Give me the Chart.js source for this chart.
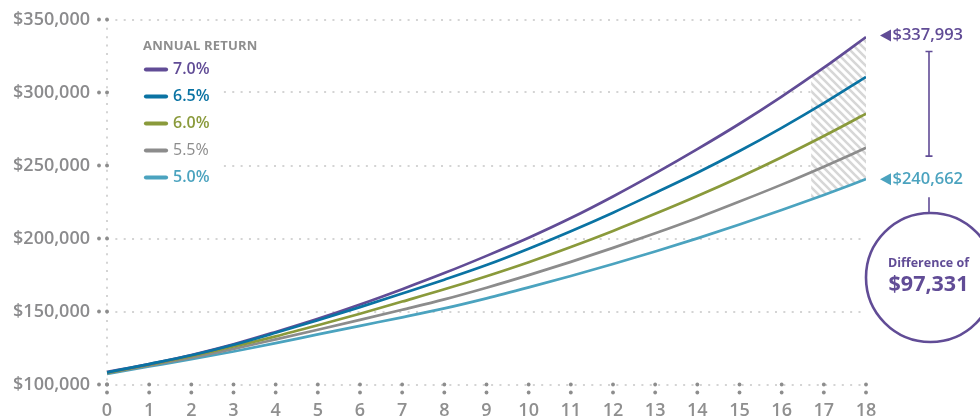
<!DOCTYPE html>
<html><head><meta charset="utf-8">
<script src="https://cdn.jsdelivr.net/npm/chart.js@4.4.1/dist/chart.umd.min.js"></script>
<style>html,body{margin:0;padding:0;background:#fff}</style>
</head><body>
<canvas id="c" width="980" height="419"></canvas>
<script>
// ---------- data ----------
const years = [0,1,2,3,4,5,6,7,8,9,10,11,12,13,14,15,16,17,18];
const seriesLabels = ['7.0%','6.5%','6.0%','5.5%','5.0%'];
const rate70 = [108500,114000,120200,127500,136000,145000,154800,165300,176300,188100,200500,214000,228800,244600,261200,278600,297200,317000,337993];
const rate65 = [108300,114000,120000,127200,135400,144000,153000,162300,171800,181800,193000,205000,217700,231200,245000,259900,275800,292700,310700];
const rate60 = [108000,113600,119400,126000,133000,140600,148500,156800,165200,174200,183800,194200,205200,216900,229100,242000,255700,270200,285400];
const rate55 = [107700,113000,118400,124400,130900,137500,144300,151200,158300,166300,174900,184000,193600,203600,214100,225300,236900,249200,262100];
const rate50 = [107300,112300,117300,122600,128300,134300,140200,146000,152100,159000,166500,174300,182500,191100,200100,209600,219500,229800,240662];
const yTickValues = [100000,150000,200000,250000,300000,350000];
const legendTitle = 'ANNUAL RETURN';
const diffTitle = 'Difference of';
const hatchFromYear = 16.7;

// ---------- styles ----------
const COLORS = ['#614c96','#0a73a3','#8a9a3b','#8c8c8c','#4ba3bf'];
const FONT = '"Open Sans", "Noto Sans", sans-serif';
const GRID = '#d4d4d4';
const DOT = '#8d8d8d';
const fmt = v => '$' + Math.round(v).toLocaleString('en-US');

const allSeries = [rate70, rate65, rate60, rate55, rate50];
const drawOrder = [1,0,2,3,4];

function hatchPattern(ctx){
  const c = document.createElement('canvas'); c.width = 8; c.height = 8;
  const g = c.getContext('2d');
  g.fillStyle = '#ffffff'; g.fillRect(0,0,8,8);
  g.strokeStyle = '#d7d7d7'; g.lineWidth = 2.6;
  g.beginPath();
  g.moveTo(-2,-2); g.lineTo(10,10);
  g.moveTo(-2,6); g.lineTo(2,10);
  g.moveTo(6,-2); g.lineTo(10,2);
  g.stroke();
  return ctx.createPattern(c, 'repeat');
}

const decor = {
  id: 'decor',
  beforeDatasetsDraw(chart){
    const {ctx, chartArea: ca, scales} = chart;
    const xs = scales.x;
    // hatched band between top and bottom series
    const x0 = xs.getPixelForValue(hatchFromYear);
    ctx.save();
    ctx.beginPath(); ctx.rect(x0, ca.top - 20, ca.right - x0, ca.bottom - ca.top + 20); ctx.clip();
    const low = chart.getDatasetMeta(4).dataset;
    ctx.beginPath(); low.path(ctx); ctx.lineTo(ca.right, ca.top - 20); ctx.lineTo(ca.left, ca.top - 20); ctx.closePath(); ctx.clip();
    const high = chart.getDatasetMeta(0).dataset;
    ctx.beginPath(); high.path(ctx); ctx.lineTo(ca.right, ca.bottom); ctx.lineTo(ca.left, ca.bottom); ctx.closePath();
    ctx.fillStyle = hatchPattern(ctx); ctx.fill();
    ctx.restore();

    // legend
    ctx.save();
    ctx.fillStyle = '#fff';
    ctx.fillRect(ca.left + 6, 33, 106, 158);
    ctx.textBaseline = 'middle';
    ctx.fillStyle = '#8e8e8e';
    ctx.font = '700 13px ' + FONT;
    if ('letterSpacing' in ctx) ctx.letterSpacing = '0.2px';
    ctx.fillText(legendTitle, ca.left + 36, 46);
    if ('letterSpacing' in ctx) ctx.letterSpacing = '0px';
    seriesLabels.forEach((lab, i) => {
      const y = 69.5 + i * 27;
      ctx.strokeStyle = COLORS[i]; ctx.lineWidth = 4.2; ctx.lineCap = 'round';
      ctx.beginPath(); ctx.moveTo(ca.left + 39, y); ctx.lineTo(ca.left + 59, y); ctx.stroke();
      ctx.fillStyle = COLORS[i];
      ctx.font = (i === 3 ? '500' : '600') + ' 16px ' + FONT;
      ctx.fillText(lab, ca.left + 66, y);
    });
    ctx.restore();
  },
  afterDraw(chart){
    const {ctx, chartArea: ca, scales} = chart;
    const xs = scales.x, ys = scales.y;
    ctx.save();
    ctx.fillStyle = DOT;
    // y tick dots
    ys.ticks.forEach(t => {
      const y = ys.getPixelForValue(t.value);
      [ca.left - 8, ca.left].forEach(x => { ctx.beginPath(); ctx.arc(x, y, 1.9, 0, Math.PI*2); ctx.fill(); });
    });
    // x tick dots
    xs.ticks.forEach(t => {
      const x = xs.getPixelForValue(t.value);
      [ca.bottom, ca.bottom + 8].forEach(y => { ctx.beginPath(); ctx.arc(x, y, 1.9, 0, Math.PI*2); ctx.fill(); });
    });

    // right annotations
    const last = years.length - 1;
    const yHi = ys.getPixelForValue(rate70[last]) - 1.5;
    const yLo = ys.getPixelForValue(rate50[last]);
    const lx = ca.right + 14;
    ctx.textBaseline = 'middle';
    ctx.font = '600 16.5px ' + FONT;
    [[yHi, COLORS[0], rate70[last]], [yLo, COLORS[4], rate50[last]]].forEach(([y, col, v]) => {
      ctx.fillStyle = col;
      ctx.beginPath(); ctx.moveTo(lx, y); ctx.lineTo(lx + 11, y - 6); ctx.lineTo(lx + 11, y + 6); ctx.closePath(); ctx.fill();
      ctx.fillText(fmt(v), lx + 12.5, y);
    });
    // bracket
    const bx = 929;
    ctx.strokeStyle = COLORS[0]; ctx.lineWidth = 1.6;
    const b1 = yHi + 16, b2 = yLo - 23;
    ctx.beginPath();
    ctx.moveTo(bx, b1); ctx.lineTo(bx, b2);
    ctx.moveTo(bx - 3.5, b1); ctx.lineTo(bx + 3.5, b1);
    ctx.moveTo(bx - 3.5, b2); ctx.lineTo(bx + 3.5, b2);
    ctx.stroke();
    // circle
    const cx = 930.5, cy = 277.5, r = 64.5;
    ctx.beginPath(); ctx.moveTo(bx, yLo + 18); ctx.lineTo(bx, cy - r); ctx.stroke();
    ctx.lineWidth = 2.6;
    ctx.beginPath(); ctx.arc(cx, cy, r, 0, Math.PI*2); ctx.stroke();
    ctx.fillStyle = COLORS[0]; ctx.textAlign = 'center';
    ctx.font = '700 12.5px ' + FONT;
    ctx.fillText(diffTitle, 928.5, 263.5);
    ctx.font = '700 21.5px ' + FONT;
    ctx.fillText(fmt(rate70[last] - rate50[last]), 928.5, 285);
    ctx.restore();
  }
};

const datasets = allSeries.map((vals, i) => ({
  label: seriesLabels[i],
  data: years.map((yr, k) => ({x: yr, y: vals[k]})),
  borderColor: COLORS[i],
  borderWidth: 2.7,
  pointRadius: 0,
  fill: false,
  cubicInterpolationMode: 'monotone',
  order: drawOrder[i]
}));

new Chart(document.getElementById('c'), {
  type: 'line',
  data: { datasets },
  options: {
    responsive: false,
    animation: false,
    layout: { padding: { left: 0, top: 19.5, right: 114, bottom: 0 } },
    plugins: { legend: { display: false }, tooltip: { enabled: false } },
    scales: {
      x: {
        type: 'linear', min: 0, max: 18,
        afterFit(s){ s.height = 34.5; s.paddingLeft = 0; s.paddingRight = 0; },
        ticks: { stepSize: 1, autoSkip: false, maxRotation: 0, padding: 16,
                 color: '#8f8f8f', font: { family: FONT, size: 18, weight: '600' } },
        grid: { drawTicks: false, lineWidth: 2,
                color: c => (c.tick && c.tick.value === 0) ? GRID : 'rgba(0,0,0,0)' },
        border: { display: false, dash: [2, 6.35] }
      },
      y: {
        min: 100000, max: 350000,
        afterFit(s){ s.width = 107; s.paddingTop = 0; s.paddingBottom = 0; },
        afterBuildTicks(s){ s.ticks = yTickValues.map(v => ({value: v})); },
        ticks: { padding: 17, color: '#8b8b8d', callback: v => fmt(v),
                 font: { family: FONT, size: 18, weight: '600' } },
        grid: { drawTicks: false, lineWidth: 2, color: GRID },
        border: { display: false, dash: [2, 6.35] }
      }
    }
  },
  plugins: [decor]
});
</script>
</body></html>
